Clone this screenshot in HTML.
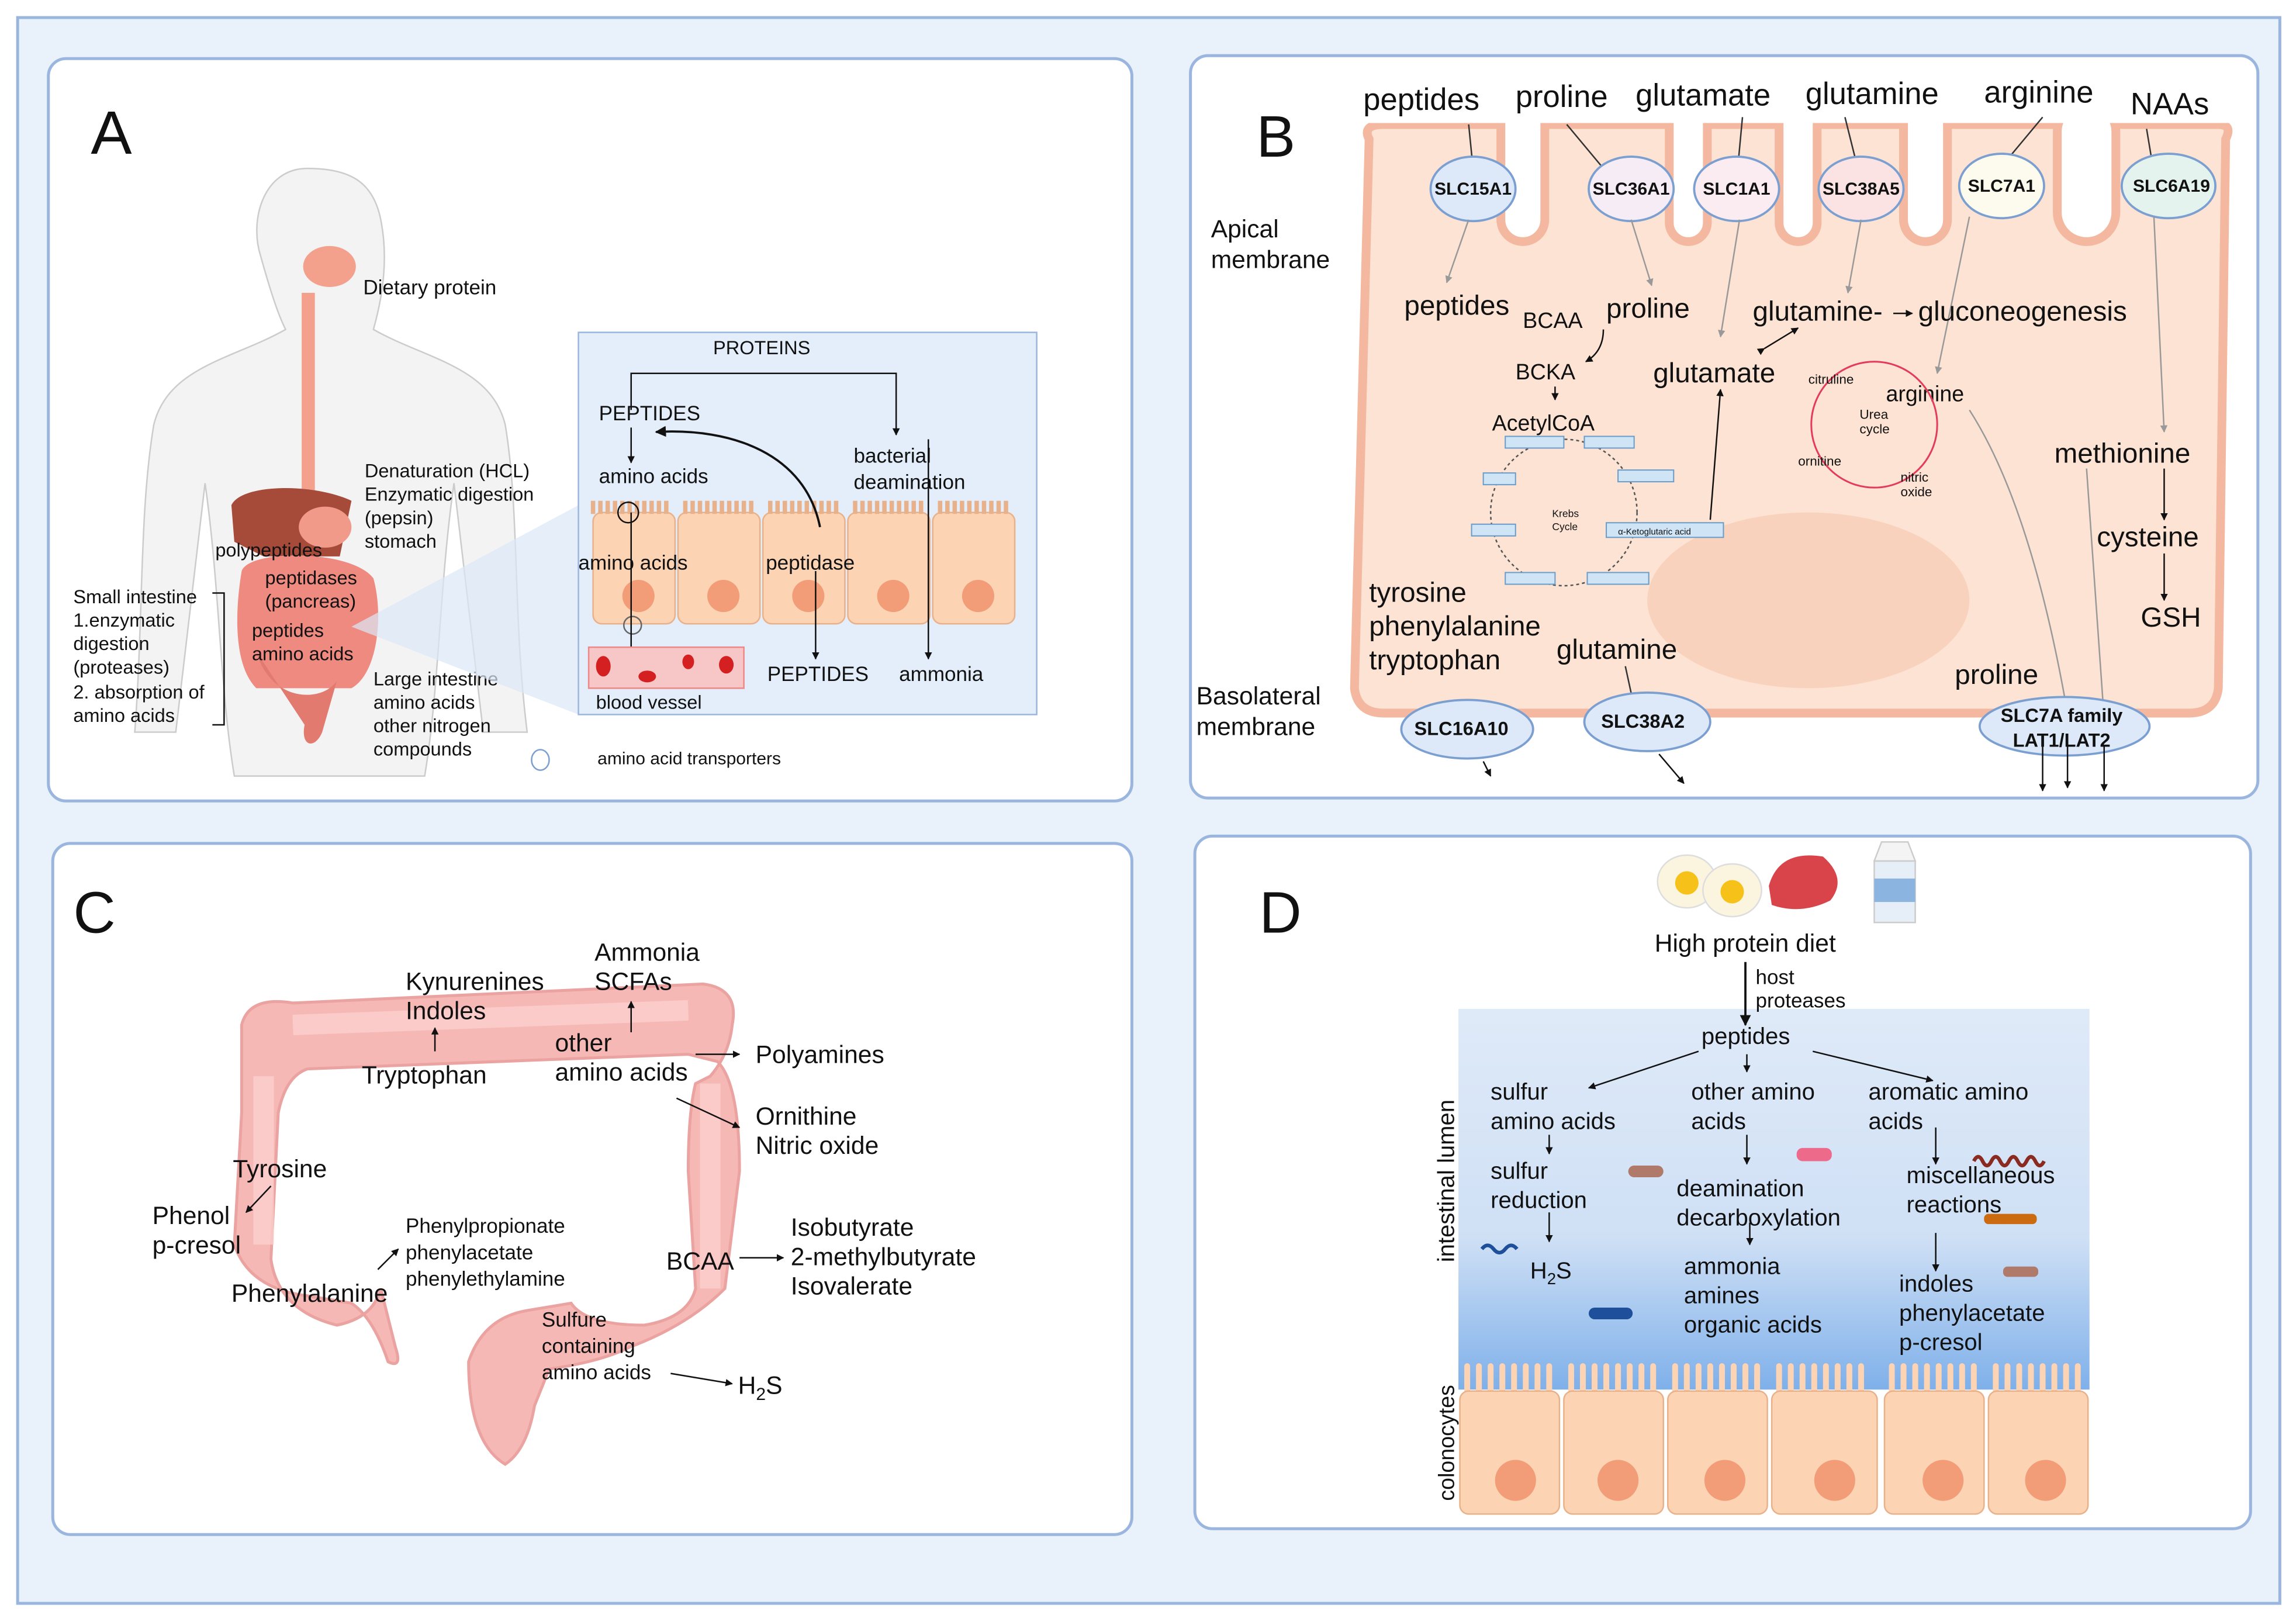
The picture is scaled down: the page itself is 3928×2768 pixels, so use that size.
<!DOCTYPE html>
<html><head><meta charset="utf-8"><style>html,body{margin:0;padding:0;background:#fff}svg{display:block}text{font-family:"Liberation Sans",sans-serif;fill:#111}</style></head><body>
<svg width="3928" height="2768" viewBox="0 0 1568 1105" xmlns="http://www.w3.org/2000/svg">
<defs><marker id="ar" viewBox="0 0 10 10" refX="9" refY="5" markerWidth="5" markerHeight="5" orient="auto"><path d="M0,0L10,5L0,10z" fill="#111"/></marker>
<marker id="ag" viewBox="0 0 10 10" refX="9" refY="5" markerWidth="5" markerHeight="5" orient="auto"><path d="M0,0L10,5L0,10z" fill="#999"/></marker>
<linearGradient id="lum" x1="0" y1="0" x2="0" y2="1"><stop offset="0" stop-color="#dfeaf8"/><stop offset="0.6" stop-color="#cfe0f5"/><stop offset="1" stop-color="#7fb0ea"/></linearGradient></defs>
<rect x="0" y="0" width="1568" height="1105" fill="#fff"/>
<rect x="12" y="12" width="1545" height="1083" fill="#e9f1fb" stroke="#9ab6de" stroke-width="2"/>
<rect x="33" y="40" width="740" height="507" rx="12" fill="#fff" stroke="#9ab6de" stroke-width="2"/>
<rect x="813" y="38" width="729" height="507" rx="12" fill="#fff" stroke="#9ab6de" stroke-width="2"/>
<rect x="36" y="576" width="737" height="472" rx="12" fill="#fff" stroke="#9ab6de" stroke-width="2"/>
<rect x="816" y="571" width="721" height="473" rx="12" fill="#fff" stroke="#9ab6de" stroke-width="2"/>
<!-- A -->
<text x="62" y="105" font-size="42">A</text>
<path d="M210,115 C180,115 170,150 178,175 C185,200 190,215 195,225 C160,245 115,250 105,290 C95,350 98,420 92,500 L120,500 L140,330 C150,400 150,470 160,530 L290,530 C300,470 300,400 310,330 L330,500 L360,500 C350,420 355,350 345,290 C335,250 290,245 255,225 C262,200 265,175 260,150 C255,125 240,115 210,115z" fill="#f3f3f3" stroke="#ccc"/>
<rect x="206" y="200" width="9" height="140" fill="#f3a08c"/>
<ellipse cx="225" cy="182" rx="18" ry="14" fill="#f3a08c"/>
<path d="M158,345 C165,330 215,330 240,342 L232,380 L180,380 L160,370z" fill="#a64b3a"/>
<ellipse cx="222" cy="360" rx="18" ry="14" fill="#f29a8a"/>
<path d="M165,390 C170,375 240,375 255,395 C262,420 258,460 240,470 L175,470 C160,455 160,420 165,390z" fill="#ee8a80"/>
<path d="M175,445 C185,480 220,480 230,465 L220,500 C215,512 205,510 208,495z" fill="#e27a70"/>
<text x="248" y="201" font-size="14">Dietary protein</text>
<text x="249" y="326" font-size="13">Denaturation (HCL)</text>
<text x="249" y="342" font-size="13">Enzymatic digestion</text>
<text x="249" y="358" font-size="13">(pepsin)</text>
<text x="249" y="374" font-size="13">stomach</text>
<text x="147" y="380" font-size="13">polypeptides</text>
<text x="181" y="399" font-size="13">peptidases</text>
<text x="181" y="415" font-size="13">(pancreas)</text>
<text x="172" y="435" font-size="13">peptides</text>
<text x="172" y="451" font-size="13">amino acids</text>
<text x="50" y="412" font-size="13">Small intestine</text>
<text x="50" y="428" font-size="13">1.enzymatic</text>
<text x="50" y="444" font-size="13">digestion</text>
<text x="50" y="460" font-size="13">(proteases)</text>
<text x="50" y="477" font-size="13">2. absorption of</text>
<text x="50" y="493" font-size="13">amino acids</text>
<path d="M145,405 H153 V495 H145" fill="none" stroke="#111"/>
<text x="255" y="468" font-size="13">Large intestine</text>
<text x="255" y="484" font-size="13">amino acids</text>
<text x="255" y="500" font-size="13">other nitrogen</text>
<text x="255" y="516" font-size="13">compounds</text>
<path d="M240,428 L395,345 L395,488z" fill="#dbe8f7" opacity="0.7"/>
<rect x="395" y="227" width="313" height="261" fill="#e3eefa" stroke="#9ab6de"/>
<text x="487" y="242" font-size="13">PROTEINS</text>
<text x="409" y="287" font-size="14">PEPTIDES</text>
<text x="409" y="330" font-size="14">amino acids</text>
<text x="583" y="316" font-size="14">bacterial</text>
<text x="583" y="334" font-size="14">deamination</text>
<path d="M431,280 V255 H612 V297" fill="none" stroke="#111" marker-end="url(#ar)"/>
<path d="M431,292 V316" stroke="#111" marker-end="url(#ar)"/>
<g fill="#fcd4b4" stroke="#e9b18a"><rect x="405" y="350" width="56" height="76" rx="6"/><rect x="463" y="350" width="56" height="76" rx="6"/><rect x="521" y="350" width="56" height="76" rx="6"/><rect x="579" y="350" width="56" height="76" rx="6"/><rect x="637" y="350" width="56" height="76" rx="6"/></g>
<g fill="#f29c78"><circle cx="436" cy="407" r="11"/><circle cx="494" cy="407" r="11"/><circle cx="552" cy="407" r="11"/><circle cx="610" cy="407" r="11"/><circle cx="668" cy="407" r="11"/></g>
<path d="M405,351 V342 M410,351 V342 M415,351 V342 M420,351 V342 M425,351 V342 M430,351 V342 M435,351 V342 M440,351 V342 M445,351 V342 M450,351 V342 M455,351 V342 M468,351 V342 M473,351 V342 M478,351 V342 M483,351 V342 M488,351 V342 M493,351 V342 M498,351 V342 M503,351 V342 M508,351 V342 M513,351 V342 M526,351 V342 M531,351 V342 M536,351 V342 M541,351 V342 M546,351 V342 M551,351 V342 M556,351 V342 M561,351 V342 M566,351 V342 M571,351 V342 M584,351 V342 M589,351 V342 M594,351 V342 M599,351 V342 M604,351 V342 M609,351 V342 M614,351 V342 M619,351 V342 M624,351 V342 M629,351 V342 M642,351 V342 M647,351 V342 M652,351 V342 M657,351 V342 M662,351 V342 M667,351 V342 M672,351 V342 M677,351 V342 M682,351 V342 M687,351 V342" stroke="#e9b18a" stroke-width="3"/>
<text x="395" y="389" font-size="14">amino acids</text>
<text x="523" y="389" font-size="14">peptidase</text>
<path d="M560,360 C550,310 500,292 448,295" fill="none" stroke="#111" stroke-width="1.5" marker-end="url(#ar)"/>
<circle cx="429" cy="350" r="7" fill="none" stroke="#111"/>
<circle cx="432" cy="427" r="6" fill="none" stroke="#666"/>
<path d="M431,350 V460" stroke="#111" marker-end="url(#ar)"/>
<rect x="402" y="442" width="106" height="28" fill="#f7c6c6" stroke="#e88"/>
<g fill="#d42020"><ellipse cx="412" cy="455" rx="5" ry="7"/><ellipse cx="442" cy="462" rx="6" ry="4"/><ellipse cx="470" cy="452" rx="4" ry="5"/><ellipse cx="496" cy="454" rx="5" ry="6"/></g>
<text x="407" y="484" font-size="13">blood vessel</text>
<path d="M557,390 V450" stroke="#111" marker-end="url(#ar)"/>
<text x="524" y="465" font-size="14">PEPTIDES</text>
<path d="M634,300 V450" stroke="#111" marker-end="url(#ar)"/>
<text x="614" y="465" font-size="14">ammonia</text>
<ellipse cx="369" cy="519" rx="6" ry="7" fill="#fff" stroke="#7a9fd0"/>
<text x="408" y="522" font-size="12">amino acid transporters</text>
<!-- B -->
<text x="858" y="107" font-size="40">B</text>
<path d="M935,95 Q930,85 945,85 L1515,85 Q1525,85 1520,95 L1515,470 Q1513,487 1495,487 L945,487 Q927,487 925,470z" fill="#fde3d3" stroke="#f4b8a0" stroke-width="6"/>
<g fill="#fff" stroke="#f4b8a0" stroke-width="6"><rect x="1025" y="70" width="30" height="95" rx="15"/><rect x="1140" y="70" width="26" height="95" rx="13"/><rect x="1215" y="70" width="26" height="95" rx="13"/><rect x="1300" y="70" width="30" height="95" rx="15"/><rect x="1405" y="70" width="40" height="95" rx="20"/></g>
<rect x="922" y="60" width="605" height="24" fill="#fff"/>
<ellipse cx="1235" cy="410" rx="110" ry="60" fill="#f8cdb8" opacity="0.8"/>
<g font-size="21"><text x="931" y="75">peptides</text><text x="1035" y="73">proline</text><text x="1117" y="72">glutamate</text><text x="1233" y="71">glutamine</text><text x="1355" y="70">arginine</text><text x="1455" y="78">NAAs</text></g>
<g stroke="#333" fill="none"><path d="M1003,85 L1006,115"/><path d="M1070,85 L1095,115"/><path d="M1190,80 L1187,112"/><path d="M1260,80 L1268,112"/><path d="M1395,80 L1370,110"/><path d="M1466,88 L1470,112"/></g>
<g stroke="#7a9fd0" stroke-width="1.5"><ellipse cx="1006" cy="129" rx="29" ry="22" fill="#dde9f8"/><ellipse cx="1114" cy="129" rx="29" ry="22" fill="#f5ecf5"/><ellipse cx="1186" cy="129" rx="29" ry="22" fill="#fbecf2"/><ellipse cx="1271" cy="129" rx="29" ry="22" fill="#fbe3e3"/><ellipse cx="1367" cy="127" rx="29" ry="22" fill="#fdfaee"/><ellipse cx="1481" cy="127" rx="32" ry="22" fill="#e5f3ee"/></g>
<g font-size="12" font-weight="bold" text-anchor="middle"><text x="1006" y="133">SLC15A1</text><text x="1114" y="133">SLC36A1</text><text x="1186" y="133">SLC1A1</text><text x="1271" y="133">SLC38A5</text><text x="1367" y="131">SLC7A1</text><text x="1483" y="131">SLC6A19</text></g>
<text x="827" y="162" font-size="17">Apical</text><text x="827" y="183" font-size="17">membrane</text>
<text x="817" y="481" font-size="17">Basolateral</text><text x="817" y="502" font-size="17">membrane</text>
<g stroke="#999" fill="none" marker-end="url(#ag)"><path d="M1003,150 L988,193"/><path d="M1114,150 L1128,195"/><path d="M1188,150 L1175,230"/><path d="M1271,150 L1262,200"/><path d="M1345,148 L1323,255"/><path d="M1471,148 L1478,295"/><path d="M1345,280 Q1390,350 1415,505"/><path d="M1425,320 L1438,505"/></g>
<g font-size="19"><text x="959" y="215">peptides</text><text x="1097" y="217">proline</text><text x="1197" y="219">glutamine-</text><text x="1310" y="219">gluconeogenesis</text><text x="1129" y="261">glutamate</text><text x="1403" y="316">methionine</text><text x="1432" y="373">cysteine</text><text x="1462" y="428">GSH</text><text x="935" y="411">tyrosine</text><text x="935" y="434">phenylalanine</text><text x="935" y="457">tryptophan</text><text x="1063" y="450">glutamine</text><text x="1335" y="467">proline</text></g>
<text x="1040" y="224" font-size="15">BCAA</text><text x="1035" y="259" font-size="15">BCKA</text><text x="1019" y="294" font-size="15">AcetylCoA</text><text x="1288" y="274" font-size="15">arginine</text>
<path d="M1293,214 L1306,214" stroke="#111" marker-end="url(#ar)"/>
<path d="M1205,238 L1228,224" stroke="#111" marker-end="url(#ar)" marker-start="url(#ar)"/>
<path d="M1095,225 Q1095,240 1083,247" fill="none" stroke="#111" marker-end="url(#ar)"/>
<path d="M1062,264 V273" stroke="#111" marker-end="url(#ar)"/>
<path d="M1168,355 L1175,266" stroke="#111" marker-end="url(#ar)"/>
<path d="M1478,320 V355" stroke="#111" marker-end="url(#ar)"/>
<path d="M1478,378 V410" stroke="#111" marker-end="url(#ar)"/>
<circle cx="1068" cy="350" r="50" fill="none" stroke="#555" stroke-dasharray="2 2"/>
<g fill="#cfe4f5" stroke="#6a9cc9" stroke-width="0.8"><rect x="1028" y="298" width="40" height="8"/><rect x="1082" y="298" width="34" height="8"/><rect x="1105" y="321" width="38" height="8"/><rect x="1097" y="357" width="80" height="10"/><rect x="1084" y="391" width="42" height="8"/><rect x="1028" y="391" width="34" height="8"/><rect x="1005" y="358" width="30" height="8"/><rect x="1013" y="323" width="22" height="8"/></g>
<text x="1060" y="353" font-size="7" fill="#555">Krebs</text><text x="1060" y="362" font-size="7" fill="#555">Cycle</text>
<text x="1105" y="365" font-size="6">α-Ketoglutaric acid</text>
<circle cx="1280" cy="290" r="43" fill="none" stroke="#e33c5a" stroke-width="1.2"/>
<text x="1235" y="262" font-size="9">citruline</text><text x="1270" y="286" font-size="9">Urea</text><text x="1270" y="296" font-size="9">cycle</text><text x="1228" y="318" font-size="9">ornitine</text><text x="1298" y="329" font-size="9">nitric</text><text x="1298" y="339" font-size="9">oxide</text>
<path d="M1110,455 L1115,478" stroke="#333"/>
<g stroke="#7a9fd0" stroke-width="1.5"><ellipse cx="1002" cy="498" rx="45" ry="20" fill="#dde9f8"/><ellipse cx="1125" cy="493" rx="43" ry="20" fill="#dde9f8"/><ellipse cx="1410" cy="496" rx="58" ry="20" fill="#dde9f8"/></g>
<g font-size="13" font-weight="bold" text-anchor="middle"><text x="998" y="502">SLC16A10</text><text x="1122" y="497">SLC38A2</text><text x="1408" y="493">SLC7A family</text><text x="1408" y="510">LAT1/LAT2</text></g>
<g stroke="#111" marker-end="url(#ar)"><path d="M1013,520 L1018,530"/><path d="M1133,515 L1150,535"/><path d="M1395,510 V540"/><path d="M1412,510 V538"/><path d="M1437,510 V540"/></g>
<!-- C -->
<text x="50" y="637" font-size="40">C</text>
<g fill="#f5b8b5" stroke="#eaa3a0" stroke-width="2">
<path d="M165,700 Q170,680 200,685 L480,672 Q505,675 500,700 Q498,720 485,735 L475,740 Q470,760 470,800 L475,880 Q470,900 440,905 Q400,905 390,890 L360,895 Q330,900 320,930 Q320,985 345,1000 Q360,990 365,960 L375,935 Q410,930 430,920 Q470,905 495,880 L505,800 Q505,740 490,725 L470,720 L210,730 Q195,735 190,760 L185,860 Q190,895 230,905 Q255,900 260,880 Q265,900 270,920 Q275,935 265,930 Q255,900 240,890 L210,885 Q170,880 160,850 L165,760z"/>
</g>
<path d="M180,735 L180,850 M200,700 L470,690 M485,740 L485,880" stroke="#fcd3d0" stroke-width="14" fill="none" opacity="0.7"/>
<g font-size="17"><text x="277" y="676">Kynurenines</text><text x="277" y="696">Indoles</text><text x="406" y="656">Ammonia</text><text x="406" y="676">SCFAs</text><text x="247" y="740">Tryptophan</text><text x="379" y="718">other</text><text x="379" y="738">amino acids</text><text x="516" y="726">Polyamines</text><text x="516" y="768">Ornithine</text><text x="516" y="788">Nitric oxide</text><text x="159" y="804">Tyrosine</text><text x="104" y="836">Phenol</text><text x="104" y="856">p-cresol</text><text x="158" y="889">Phenylalanine</text><text x="540" y="844">Isobutyrate</text><text x="540" y="864">2-methylbutyrate</text><text x="540" y="884">Isovalerate</text><text x="455" y="867">BCAA</text><text x="504" y="952">H<tspan font-size="12" dy="4">2</tspan><tspan dy="-4">S</tspan></text></g>
<g font-size="14"><text x="277" y="842">Phenylpropionate</text><text x="277" y="860">phenylacetate</text><text x="277" y="878">phenylethylamine</text><text x="370" y="906">Sulfure</text><text x="370" y="924">containing</text><text x="370" y="942">amino acids</text></g>
<g stroke="#111" marker-end="url(#ar)"><path d="M297,718 V702"/><path d="M431,705 V684"/><path d="M475,720 H505"/><path d="M462,750 L505,770"/><path d="M185,810 L168,828"/><path d="M258,867 L272,853"/><path d="M505,859 H535"/><path d="M458,938 L500,945"/></g>
<!-- D -->
<text x="860" y="637" font-size="40">D</text>
<ellipse cx="1152" cy="602" rx="20" ry="18" fill="#fbf5e0" stroke="#ddd"/><circle cx="1152" cy="603" r="8" fill="#f6c21a"/>
<ellipse cx="1183" cy="608" rx="20" ry="18" fill="#fbf5e0" stroke="#ddd"/><circle cx="1183" cy="609" r="8" fill="#f6c21a"/>
<path d="M1208,605 Q1215,580 1245,585 Q1262,600 1250,615 Q1230,625 1210,618z" fill="#d8444a"/>
<rect x="1280" y="588" width="28" height="42" fill="#e6eef7" stroke="#ccc"/><path d="M1280,588 L1285,575 L1303,575 L1308,588z" fill="#f4f4f4" stroke="#ccc"/><rect x="1280" y="600" width="28" height="16" fill="#8cb4e0"/>
<text x="1130" y="650" font-size="17">High protein diet</text>
<rect x="996" y="689" width="431" height="260" fill="url(#lum)"/>
<path d="M1192,657 V700" stroke="#111" stroke-width="1.5" marker-end="url(#ar)"/>
<text x="1199" y="672" font-size="14">host</text><text x="1199" y="688" font-size="14">proteases</text>
<text x="1162" y="713" font-size="16">peptides</text>
<g stroke="#111" marker-end="url(#ar)"><path d="M1160,718 L1085,743"/><path d="M1193,720 V732"/><path d="M1238,718 L1320,738"/><path d="M1058,775 V788"/><path d="M1193,775 V795"/><path d="M1322,770 V795"/><path d="M1058,828 V848"/><path d="M1195,835 V850"/><path d="M1322,842 V868"/></g>
<g font-size="16"><text x="1018" y="751">sulfur</text><text x="1018" y="771">amino acids</text><text x="1155" y="751">other amino</text><text x="1155" y="771">acids</text><text x="1276" y="751">aromatic amino</text><text x="1276" y="771">acids</text><text x="1018" y="805">sulfur</text><text x="1018" y="825">reduction</text><text x="1145" y="817">deamination</text><text x="1145" y="837">decarboxylation</text><text x="1302" y="808">miscellaneous</text><text x="1302" y="828">reactions</text><text x="1045" y="873">H<tspan font-size="11" dy="4">2</tspan><tspan dy="-4">S</tspan></text><text x="1150" y="870">ammonia</text><text x="1150" y="890">amines</text><text x="1150" y="910">organic acids</text><text x="1297" y="882">indoles</text><text x="1297" y="902">phenylacetate</text><text x="1297" y="922">p-cresol</text></g>
<rect x="1112" y="796" width="24" height="8" rx="4" fill="#b07a6a"/><rect x="1227" y="784" width="24" height="9" rx="4" fill="#ee6a8a"/><rect x="1085" y="893" width="30" height="8" rx="4" fill="#1e4f9a"/><rect x="1355" y="829" width="36" height="7" rx="3" fill="#cc6a10"/><rect x="1368" y="865" width="24" height="7" rx="3" fill="#b07a6a"/>
<path d="M1012,853 q4,-5 8,0 t8,0 t8,0" stroke="#1e4f9a" stroke-width="2.5" fill="none"/>
<path d="M1348,793 q3,-6 6,0 t6,0 t6,0 t6,0 t6,0 t6,0 t6,0 t6,0" stroke="#8a2a20" stroke-width="2.5" fill="none"/>
<g stroke="#fcd4b4" stroke-width="4" stroke-linecap="round">
<path d="M1002,950 V933 M1010,950 V933 M1018,950 V933 M1026,950 V933 M1034,950 V933 M1042,950 V933 M1050,950 V933 M1058,950 V933 M1073,950 V933 M1081,950 V933 M1089,950 V933 M1097,950 V933 M1105,950 V933 M1113,950 V933 M1121,950 V933 M1129,950 V933 M1144,950 V933 M1152,950 V933 M1160,950 V933 M1168,950 V933 M1176,950 V933 M1184,950 V933 M1192,950 V933 M1200,950 V933 M1215,950 V933 M1223,950 V933 M1231,950 V933 M1239,950 V933 M1247,950 V933 M1255,950 V933 M1263,950 V933 M1271,950 V933 M1292,950 V933 M1300,950 V933 M1308,950 V933 M1316,950 V933 M1324,950 V933 M1332,950 V933 M1340,950 V933 M1348,950 V933 M1363,950 V933 M1371,950 V933 M1379,950 V933 M1387,950 V933 M1395,950 V933 M1403,950 V933 M1411,950 V933 M1419,950 V933"/></g>
<g fill="#fcd4b4" stroke="#e9b18a"><rect x="997" y="950" width="68" height="84" rx="6"/><rect x="1068" y="950" width="68" height="84" rx="6"/><rect x="1139" y="950" width="68" height="84" rx="6"/><rect x="1210" y="950" width="72" height="84" rx="6"/><rect x="1287" y="950" width="68" height="84" rx="6"/><rect x="1358" y="950" width="68" height="84" rx="6"/></g>
<g fill="#f29c78"><circle cx="1035" cy="1011" r="14"/><circle cx="1105" cy="1011" r="14"/><circle cx="1178" cy="1011" r="14"/><circle cx="1253" cy="1011" r="14"/><circle cx="1327" cy="1011" r="14"/><circle cx="1397" cy="1011" r="14"/></g>
<text transform="translate(993,862) rotate(-90)" font-size="16">intestinal lumen</text>
<text transform="translate(993,1025) rotate(-90)" font-size="15">colonocytes</text>
</svg>
</body></html>
